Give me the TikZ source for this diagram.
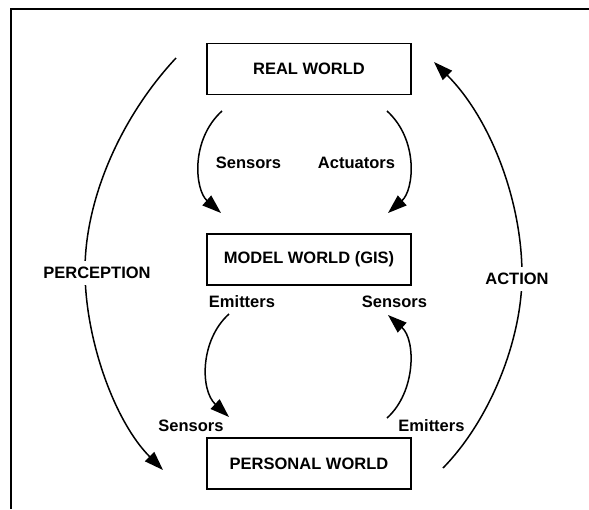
\documentclass[tikz,border=0pt]{standalone}
\usepackage{fontspec}
\setmainfont{Liberation Sans}
\usetikzlibrary{arrows.meta}
\tikzset{
  world/.style={draw, line width=1.6pt, minimum width=204pt, minimum height=51pt, inner sep=0pt, font=\fontsize{16.5}{19}\selectfont\bfseries},
  lbl/.style={inner sep=0pt, font=\fontsize{16.5}{19}\selectfont\bfseries},
  biglbl/.style={fill=white, inner xsep=2pt, inner ysep=6pt, font=\fontsize{16.5}{19}\selectfont\bfseries},
  flow/.style={line width=1.5pt, -{Triangle[length=19pt,width=13pt]}},
  frameline/.style={line width=2pt}
}
\begin{document}
\begin{tikzpicture}[x=1pt,y=-1pt]
\useasboundingbox (0,0) rectangle (589,509);
% frame (top and left only)
\coordinate (fA) at (589,9);
\coordinate (fB) at (11,9);
\coordinate (fC) at (11,509);
\draw[frameline] (fA) -- (fB) -- (fC);

% boxes
\node[world] (real) at (309,69) {REAL WORLD};
\node[world] (model) at (309,259.5) {MODEL WORLD (GIS)};
\node[world] (pers) at (309,463.5) {PERSONAL WORLD};

% coordinates for connector ends
\coordinate (pS) at (176,58);
\coordinate (pM) at (85,270);
\coordinate (pE) at (163,470);
\coordinate (aS) at (443,468);
\coordinate (aM) at (522,275);
\coordinate (aE) at (434,62);
\coordinate (s1S) at (222,111);
\coordinate (s1E) at (221,213);
\coordinate (a1S) at (387,111);
\coordinate (a1E) at (388,213);
\coordinate (e1S) at (229,314);
\coordinate (e1E) at (229,417);
\coordinate (e2S) at (387,418);
\coordinate (e2E) at (388,315);

% big arcs
\draw[flow] (pS) .. controls (120,118) and (85,200) .. (pM) .. controls (85,340) and (115,422) .. (pE);
\draw[flow] (aS) .. controls (490,420) and (522,340) .. (aM) .. controls (522,200) and (490,118) .. (aE);

% small arcs
\draw[flow] (s1S) .. controls (190,140) and (195,190) .. (s1E);
\draw[flow] (a1S) .. controls (419,140) and (414,190) .. (a1E);
\draw[flow] (e1S) .. controls (200,340) and (200,390) .. (e1E);
\draw[flow] (e2S) .. controls (416,392) and (416,340) .. (e2E);

% labels
\node[biglbl] (perc) at (97,273) {PERCEPTION};
\node[biglbl] (act) at (517,279) {ACTION};
\node[lbl] (l1) at (248.5,163) {Sensors};
\node[lbl] (l2) at (356.5,163) {Actuators};
\node[lbl] (l3) at (242,302) {Emitters};
\node[lbl] (l4) at (394.5,302) {Sensors};
\node[lbl] (l5) at (191,426) {Sensors};
\node[lbl] (l6) at (431.5,426) {Emitters};
\end{tikzpicture}
\end{document}
